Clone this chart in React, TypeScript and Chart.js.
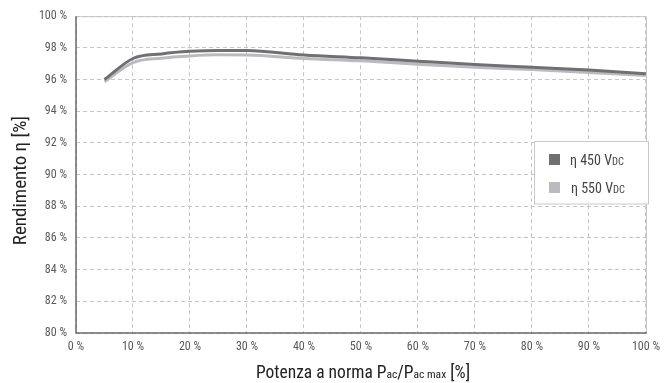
import React, { useEffect, useRef } from "react";
import { Chart, registerables } from "chart.js";

Chart.register(...registerables);

const xValues = [5, 10, 15, 20, 25, 30, 40, 50, 60, 70, 80, 90, 100];
const eta450 = [96.0, 97.33, 97.62, 97.78, 97.84, 97.83, 97.55, 97.37, 97.16, 96.95, 96.78, 96.6, 96.37];
const eta550 = [95.86, 97.07, 97.35, 97.49, 97.56, 97.55, 97.33, 97.18, 96.97, 96.78, 96.63, 96.44, 96.25];
const legendLabels = ["η 450 V", "η 550 V"];
const legendSub = "DC";
const yTitle = "Rendimento η [%]";

const FONT = "'Liberation Sans Narrow', 'Roboto Condensed', 'Arial Narrow', 'Liberation Sans', sans-serif";
const DARK = "#707073";
const LIGHT = "#bbbbbf";

const overlay = {
  id: "overlay",
  afterDraw(chart: any) {
    const { ctx, chartArea: a } = chart;
    ctx.save();
    // top & right border
    ctx.strokeStyle = "#c4c4c4";
    ctx.lineWidth = 1;
    ctx.setLineDash([]);
    ctx.beginPath();
    ctx.moveTo(a.left, a.top + 0.5);
    ctx.lineTo(a.right + 0.5, a.top + 0.5);
    ctx.lineTo(a.right + 0.5, a.bottom);
    ctx.stroke();
    // axis lines
    ctx.strokeStyle = "#6a6a6a";
    ctx.lineWidth = 1.5;
    ctx.beginPath();
    ctx.moveTo(a.left, a.top);
    ctx.lineTo(a.left, a.bottom);
    ctx.lineTo(a.right + 1, a.bottom);
    ctx.stroke();

    // legend
    const lx = 534.5, ly = 141.5, lw = 114, lh = 62.5;
    ctx.fillStyle = "#ffffff";
    ctx.fillRect(lx, ly, lw, lh);
    ctx.strokeStyle = "#c8c8c8";
    ctx.lineWidth = 1;
    ctx.strokeRect(lx, ly, lw, lh);
    const colors = [DARK, LIGHT];
    const rows = [160, 188];
    rows.forEach((cy, i) => {
      ctx.fillStyle = colors[i];
      ctx.fillRect(549, cy - 6, 11, 11);
      ctx.fillStyle = "#444";
      ctx.textBaseline = "alphabetic";
      ctx.textAlign = "left";
      ctx.font = `14px ${FONT}`;
      const x0 = 570 + (i === 1 ? 1 : 0);
      ctx.fillText(legendLabels[i], x0, cy + 5);
      const w = ctx.measureText(legendLabels[i]).width;
      ctx.font = `10.5px ${FONT}`;
      ctx.fillText(legendSub, x0 + w, cy + 5);
    });

    // y title
    ctx.save();
    ctx.translate(26, (a.top + a.bottom) / 2 + 6);
    ctx.rotate(-Math.PI / 2);
    ctx.fillStyle = "#222";
    ctx.font = `19px ${FONT}`;
    ctx.textAlign = "center";
    ctx.textBaseline = "alphabetic";
    ctx.fillText(yTitle, 0, 0);
    ctx.restore();

    // x title with subscripts
    const parts: [string, number][] = [
      ["Potenza a norma P", 17.5],
      ["ac", 11.5],
      ["/P", 17.5],
      ["ac max", 11.5],
      [" [%]", 17.5],
    ];
    let total = 0;
    parts.forEach(([t, s]) => {
      ctx.font = `${s}px ${FONT}`;
      total += ctx.measureText(t).width;
    });
    let x = (a.left + a.right) / 2 + 2 - total / 2;
    const base = 378;
    ctx.fillStyle = "#222";
    ctx.textAlign = "left";
    ctx.textBaseline = "alphabetic";
    parts.forEach(([t, s]) => {
      ctx.font = `${s}px ${FONT}`;
      ctx.fillText(t, x, base);
      x += ctx.measureText(t).width;
    });
    ctx.restore();
  },
};

export default function App() {
  const ref = useRef<HTMLCanvasElement>(null);
  useEffect(() => {
    const chart = new Chart(ref.current!, {
      type: "line",
      data: {
        datasets: [
          {
            label: "η 450 VDC",
            data: xValues.map((x, i) => ({ x, y: eta450[i] })),
            borderColor: DARK,
            borderWidth: 3,
            pointRadius: 0,
            cubicInterpolationMode: "monotone",
            fill: false,
            order: 1,
          },
          {
            label: "η 550 VDC",
            data: xValues.map((x, i) => ({ x, y: eta550[i] })),
            borderColor: LIGHT,
            borderWidth: 3,
            pointRadius: 0,
            cubicInterpolationMode: "monotone",
            fill: false,
            order: 2,
          },
        ],
      },
      options: {
        animation: false,
        responsive: false,
        layout: { padding: { top: 14, right: 18, left: 0, bottom: 0 } },
        plugins: { legend: { display: false }, tooltip: { enabled: false } },
        scales: {
          x: {
            type: "linear",
            min: 0,
            max: 100,
            afterFit: (s: any) => { s.height = 50; },
            ticks: {
              stepSize: 10,
              color: "#5a5a5a",
              font: { family: FONT, size: 12 },
              padding: 7,
              callback: (v: any) => `${v} %`,
              maxRotation: 0,
            },
            grid: { color: "#c6c6c6", drawTicks: false, lineWidth: 1 },
            border: { display: false, dash: [4, 3] },
          },
          y: {
            min: 80,
            max: 100,
            afterFit: (s: any) => { s.width = 76; },
            ticks: {
              stepSize: 2,
              color: "#5a5a5a",
              font: { family: FONT, size: 12 },
              padding: 9,
              callback: (v: any) => `${v} %`,
            },
            grid: { color: "#c6c6c6", drawTicks: false, lineWidth: 1 },
            border: { display: false, dash: [4, 3] },
          },
        },
      },
      plugins: [overlay],
    });
    return () => chart.destroy();
  }, []);
  return (
    <div style={{ position: "fixed", left: 0, top: 0, width: 667, height: 383, background: "#fff" }}>
      <canvas ref={ref} width={667} height={383} style={{ width: 667, height: 383 }} />
    </div>
  );
}
